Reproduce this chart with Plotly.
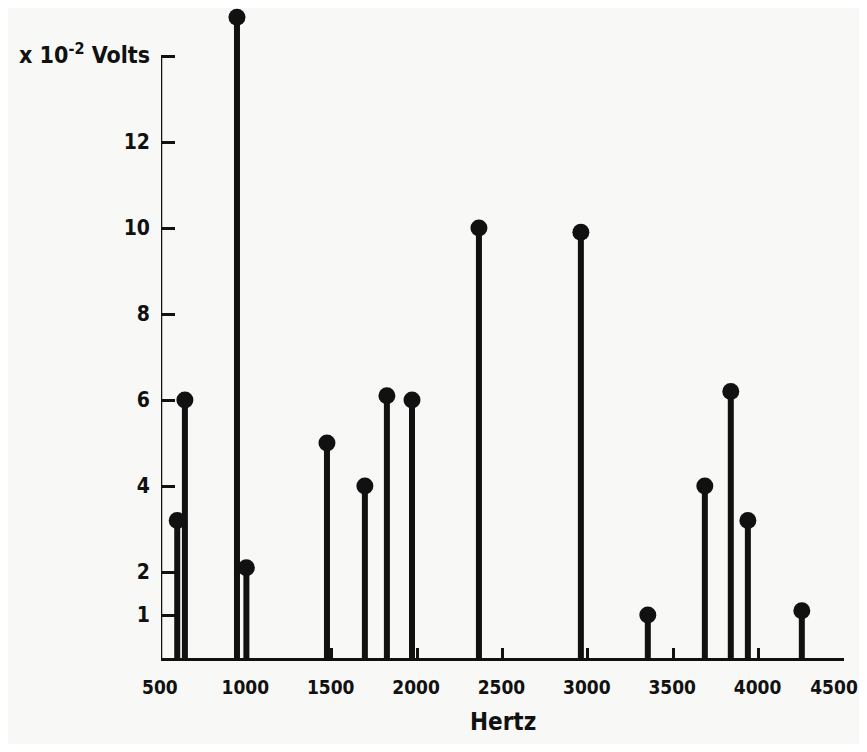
import plotly.graph_objects as go

# Data
freqs_hz = [595, 640, 945, 1000, 1472, 1694, 1823, 1970, 2362, 2959, 3351, 3685, 3837, 3937, 4253]
volts_e2 = [3.2, 6.0, 14.9, 2.1, 5.0, 4.0, 6.1, 6.0, 10.0, 9.9, 1.0, 4.0, 6.2, 3.2, 1.1]

x_ticks = [500, 1000, 1500, 2000, 2500, 3000, 3500, 4000, 4500]
x_labels = ["500", "1000", "1500", "2000", "2500", "3000", "3500", "4000", "4500"]
y_ticks = [1, 2, 4, 6, 8, 10, 12, 14]
y_ticktext = ["1", "2", "4", "6", "8", "10", "12",
              "<span style='font-size:23px'>x 10<sup>-2</sup> Volts</span>"]

FONT = "DejaVu Sans Condensed, DejaVu Sans, sans-serif"
INK = "#111111"

# The last label sits left of its tick in the original; others are centred
PAD = "&nbsp;&nbsp;&nbsp;"
x_ticktext = [PAD + t for t in x_labels[:-1]] + [x_labels[-1]]

# Build stems from the data
stem_x, stem_y = [], []
for f, v in zip(freqs_hz, volts_e2):
    stem_x += [f, f, None]
    stem_y += [0, v, None]

fig = go.Figure()
fig.add_trace(go.Scatter(x=stem_x, y=stem_y, mode="lines",
                         line=dict(color=INK, width=6), hoverinfo="skip",
                         cliponaxis=False, showlegend=False))
fig.add_trace(go.Scatter(x=freqs_hz, y=volts_e2, mode="markers",
                         marker=dict(color=INK, size=17, line=dict(width=0)),
                         cliponaxis=False, showlegend=False))

# y axis line up to the top tick only
fig.add_shape(type="line", xref="x", yref="y", x0=x_ticks[0], x1=x_ticks[0],
              y0=0, y1=y_ticks[-1], line=dict(color=INK, width=2.5), layer="above")

fig.update_layout(
    width=859, height=736,
    margin=dict(l=153, r=23, t=5, b=86),
    paper_bgcolor="#f8f8f6", plot_bgcolor="#f8f8f6",
    font=dict(family=FONT, size=21, color=INK, weight="bold"),
    xaxis=dict(range=[500, 4500], tickvals=x_ticks, ticktext=x_ticktext,
               ticks="inside", ticklen=10, tickwidth=2.5, tickcolor=INK,
               showline=True, linecolor=INK, linewidth=2.5, automargin=False,
               showgrid=False, zeroline=False, ticklabelstandoff=10,
               ticklabelshift=-10, ticklabeloverflow="allow",
               tickfont=dict(family=FONT, size=19, color=INK, weight="bold")),
    yaxis=dict(range=[0, 15], tickvals=y_ticks, ticktext=y_ticktext,
               ticks="inside", ticklen=14, tickwidth=2.5, tickcolor=INK,
               showline=False, showgrid=False, zeroline=False, automargin=False,
               ticklabelstandoff=10, ticklabeloverflow="allow",
               tickfont=dict(family=FONT, size=21, color=INK, weight="bold")),
    annotations=[dict(text="Hertz", xref="paper", yref="paper", x=0.5, y=-0.099,
                      xanchor="center", yanchor="middle", showarrow=False,
                      font=dict(family=FONT, size=24, color=INK, weight="bold"))],
)

fig.write_html("out.html", config={"displayModeBar": False})
